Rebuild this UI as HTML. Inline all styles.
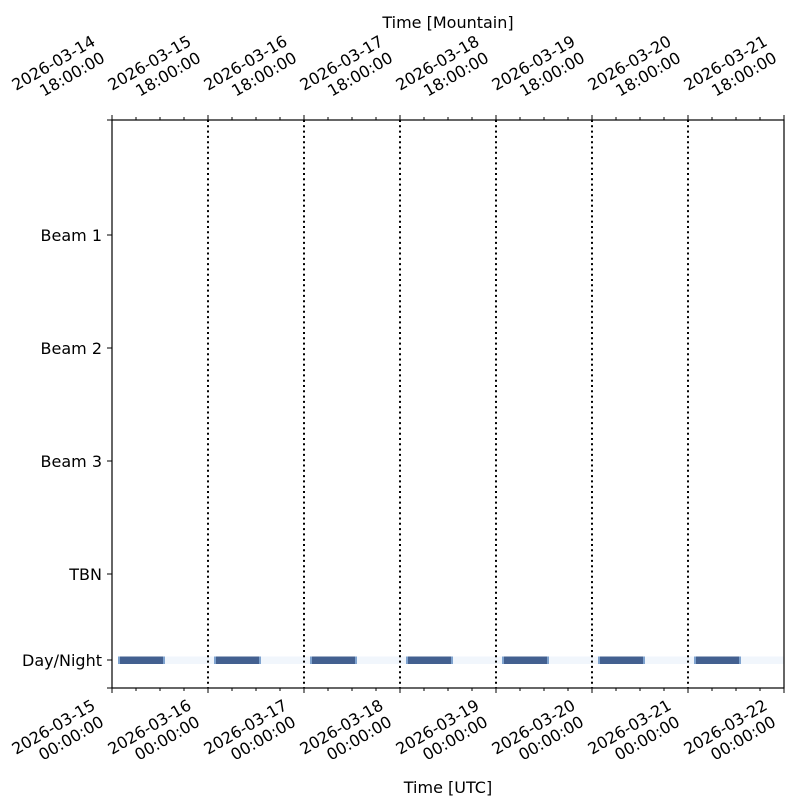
<!DOCTYPE html>
<html><head><style>body{margin:0;background:#fff}svg{display:block}</style></head><body>
<svg width="800" height="800" xmlns="http://www.w3.org/2000/svg" font-family="DejaVu Sans, Liberation Sans, sans-serif" font-size="16">
<rect width="800" height="800" fill="#fff"/>
<rect x="118" y="656.5" width="666" height="7.5" fill="#f1f6fc"/>
<g fill="#436090">
<rect x="120" y="656.5" width="43" height="7.5"/>
<rect x="216" y="656.5" width="43" height="7.5"/>
<rect x="312" y="656.5" width="43" height="7.5"/>
<rect x="408" y="656.5" width="43" height="7.5"/>
<rect x="504" y="656.5" width="43" height="7.5"/>
<rect x="600" y="656.5" width="43" height="7.5"/>
<rect x="696" y="656.5" width="43" height="7.5"/>
</g>
<g fill="#7fa3cf">
<rect x="118" y="656.5" width="2" height="7.5"/><rect x="163" y="656.5" width="2" height="7.5"/>
<rect x="214" y="656.5" width="2" height="7.5"/><rect x="259" y="656.5" width="2" height="7.5"/>
<rect x="310" y="656.5" width="2" height="7.5"/><rect x="355" y="656.5" width="2" height="7.5"/>
<rect x="406" y="656.5" width="2" height="7.5"/><rect x="451" y="656.5" width="2" height="7.5"/>
<rect x="502" y="656.5" width="2" height="7.5"/><rect x="547" y="656.5" width="2" height="7.5"/>
<rect x="598" y="656.5" width="2" height="7.5"/><rect x="643" y="656.5" width="2" height="7.5"/>
<rect x="694" y="656.5" width="2" height="7.5"/><rect x="739" y="656.5" width="2" height="7.5"/>
</g>
<g stroke="#000" stroke-width="2" stroke-dasharray="2,3.3">
<line x1="208" y1="120" x2="208" y2="688"/><line x1="304" y1="120" x2="304" y2="688"/>
<line x1="400" y1="120" x2="400" y2="688"/><line x1="496" y1="120" x2="496" y2="688"/>
<line x1="592" y1="120" x2="592" y2="688"/><line x1="688" y1="120" x2="688" y2="688"/>
</g>
<rect x="112" y="120" width="672" height="568" fill="none" stroke="#000" stroke-width="1.2"/>
<g stroke="#000" stroke-width="1">
<path d="M112 688v5M208 688v5M304 688v5M400 688v5M496 688v5M592 688v5M688 688v5M784 688v5M112 120v-5M208 120v-5M304 120v-5M400 120v-5M496 120v-5M592 120v-5M688 120v-5M784 120v-5"/>
<path d="M136 688v3M160 688v3M184 688v3M232 688v3M256 688v3M280 688v3M328 688v3M352 688v3M376 688v3M424 688v3M448 688v3M472 688v3M520 688v3M544 688v3M568 688v3M616 688v3M640 688v3M664 688v3M712 688v3M736 688v3M760 688v3
M136 120v-3M160 120v-3M184 120v-3M232 120v-3M256 120v-3M280 120v-3M328 120v-3M352 120v-3M376 120v-3M424 120v-3M448 120v-3M472 120v-3M520 120v-3M544 120v-3M568 120v-3M616 120v-3M640 120v-3M664 120v-3M712 120v-3M736 120v-3M760 120v-3"/>
<path d="M112 120h-5M112 235h-5M112 348h-5M112 461h-5M112 574h-5M112 660h-5M112 688h-5"/>
</g>
<g text-anchor="end">
<text x="102" y="241">Beam 1</text>
<text x="102" y="354">Beam 2</text>
<text x="102" y="467">Beam 3</text>
<text x="102" y="580">TBN</text>
<text x="102" y="666">Day/Night</text>
</g>
<g text-anchor="end">
<text transform="translate(96.5,708.5) rotate(-30)">2026-03-15</text><text transform="translate(105,725) rotate(-30)">00:00:00</text>
<text transform="translate(192.5,708.5) rotate(-30)">2026-03-16</text><text transform="translate(201,725) rotate(-30)">00:00:00</text>
<text transform="translate(288.5,708.5) rotate(-30)">2026-03-17</text><text transform="translate(297,725) rotate(-30)">00:00:00</text>
<text transform="translate(384.5,708.5) rotate(-30)">2026-03-18</text><text transform="translate(393,725) rotate(-30)">00:00:00</text>
<text transform="translate(480.5,708.5) rotate(-30)">2026-03-19</text><text transform="translate(489,725) rotate(-30)">00:00:00</text>
<text transform="translate(576.5,708.5) rotate(-30)">2026-03-20</text><text transform="translate(585,725) rotate(-30)">00:00:00</text>
<text transform="translate(672.5,708.5) rotate(-30)">2026-03-21</text><text transform="translate(681,725) rotate(-30)">00:00:00</text>
<text transform="translate(768.5,708.5) rotate(-30)">2026-03-22</text><text transform="translate(777,725) rotate(-30)">00:00:00</text>

<text transform="translate(96.5,44.5) rotate(-30)">2026-03-14</text><text transform="translate(106,61) rotate(-30)">18:00:00</text>
<text transform="translate(192.5,44.5) rotate(-30)">2026-03-15</text><text transform="translate(202,61) rotate(-30)">18:00:00</text>
<text transform="translate(288.5,44.5) rotate(-30)">2026-03-16</text><text transform="translate(298,61) rotate(-30)">18:00:00</text>
<text transform="translate(384.5,44.5) rotate(-30)">2026-03-17</text><text transform="translate(394,61) rotate(-30)">18:00:00</text>
<text transform="translate(480.5,44.5) rotate(-30)">2026-03-18</text><text transform="translate(490,61) rotate(-30)">18:00:00</text>
<text transform="translate(576.5,44.5) rotate(-30)">2026-03-19</text><text transform="translate(586,61) rotate(-30)">18:00:00</text>
<text transform="translate(672.5,44.5) rotate(-30)">2026-03-20</text><text transform="translate(682,61) rotate(-30)">18:00:00</text>
<text transform="translate(768.5,44.5) rotate(-30)">2026-03-21</text><text transform="translate(778,61) rotate(-30)">18:00:00</text>
</g>
<text x="448" y="28" text-anchor="middle">Time [Mountain]</text>
<text x="448" y="793" text-anchor="middle">Time [UTC]</text>
</svg>
</body></html>
